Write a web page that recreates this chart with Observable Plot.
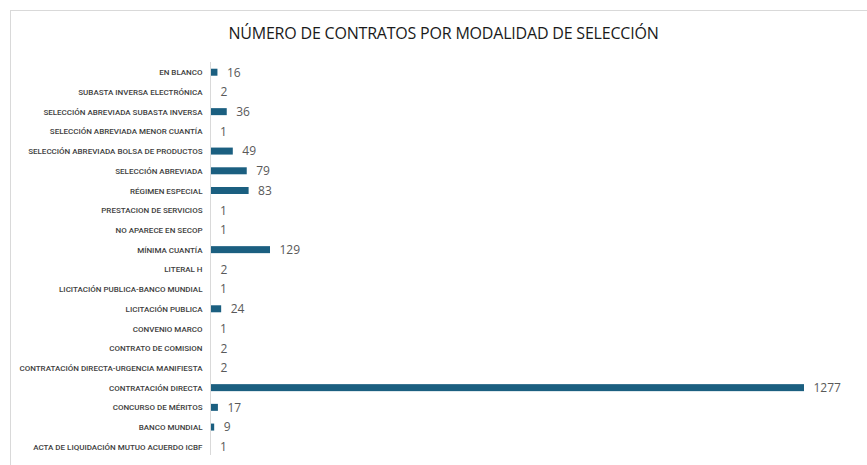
<!DOCTYPE html>
<html>
<head>
<meta charset="utf-8">
<script src="https://cdn.jsdelivr.net/npm/d3@7"></script>
<script src="https://cdn.jsdelivr.net/npm/@observablehq/plot@0.6"></script>
<style>
  body { margin: 0; background: #fff; width: 867px; height: 465px; overflow: hidden; position: relative; }
  #frame { position: absolute; left: 10px; top: 10px; width: 900px; height: 500px; border: 1px solid #d9d9d9; box-sizing: border-box; }
  #title { position: absolute; top: 22px; left: 10px; width: 867px; text-align: center; font-family: "Open Sans", sans-serif; font-size: 16px; color: #1a1a1a; letter-spacing: -0.2px; }
  #chart { position: absolute; left: 0; top: 0; }
</style>
</head>
<body>
<div id="frame"></div>
<div id="title">NÚMERO DE CONTRATOS POR MODALIDAD DE SELECCIÓN</div>
<div id="chart"></div>
<script>
const categories = [
  "EN BLANCO",
  "SUBASTA INVERSA ELECTRÓNICA",
  "SELECCIÓN ABREVIADA SUBASTA INVERSA",
  "SELECCIÓN ABREVIADA MENOR CUANTÍA",
  "SELECCIÓN ABREVIADA BOLSA DE PRODUCTOS",
  "SELECCIÓN ABREVIADA",
  "RÉGIMEN ESPECIAL",
  "PRESTACION DE SERVICIOS",
  "NO APARECE EN SECOP",
  "MÍNIMA CUANTÍA",
  "LITERAL H",
  "LICITACIÓN PUBLICA-BANCO MUNDIAL",
  "LICITACIÓN PUBLICA",
  "CONVENIO MARCO",
  "CONTRATO DE COMISION",
  "CONTRATACIÓN DIRECTA-URGENCIA MANIFIESTA",
  "CONTRATACIÓN DIRECTA",
  "CONCURSO DE MÉRITOS",
  "BANCO MUNDIAL",
  "ACTA DE LIQUIDACIÓN MUTUO ACUERDO ICBF"
];
const counts = [16, 2, 36, 1, 49, 79, 83, 1, 1, 129, 2, 1, 24, 1, 2, 2, 1277, 17, 9, 1];

const data = categories.map((c, i) => ({modalidad: c, n: counts[i]}));

const chart = Plot.plot({
  width: 867,
  height: 465,
  marginLeft: 210,
  marginRight: 63,
  marginTop: 56,
  marginBottom: 2,
  style: {background: "transparent", overflow: "visible"},
  x: {domain: [0, 1277], axis: null},
  y: {domain: categories, padding: 0.645, round: false, label: null},
  marks: [
    Plot.barX(data, {x: "n", y: "modalidad", fill: "#1b5f80"}),
    Plot.ruleX([0], {stroke: "#d9d9d9", insetTop: 6, insetBottom: 8}),
    Plot.text(data, {x: "n", y: "modalidad", text: d => String(d.n), textAnchor: "start", dx: 9, fill: "#595959", fontSize: 12, fontFamily: "Open Sans, sans-serif"}),
    Plot.axisY({tickSize: 0, tickPadding: 8, fontSize: 8, fontFamily: "Roboto, sans-serif", fontWeight: 500, fill: "#404040", label: null})
  ]
});
document.getElementById("chart").appendChild(chart);
</script>
</body>
</html>
